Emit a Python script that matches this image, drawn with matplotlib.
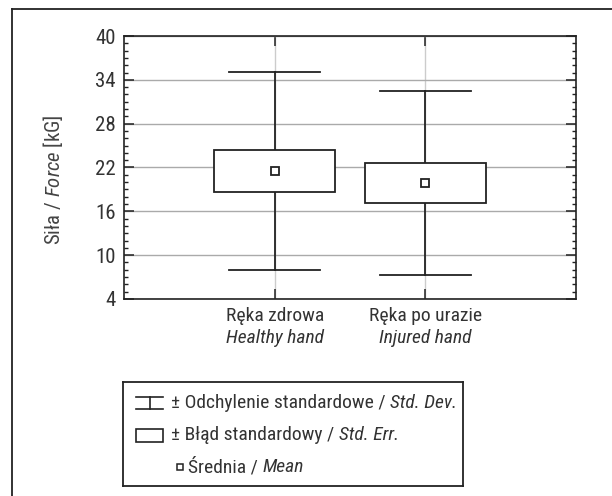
import matplotlib
matplotlib.use('Agg')
import matplotlib.pyplot as plt
from matplotlib import font_manager
from matplotlib.patches import Rectangle
from matplotlib.lines import Line2D
from matplotlib.ticker import MultipleLocator
import matplotlib.transforms as mtransforms

# data
groups_pl = ['Ręka zdrowa', 'Ręka po urazie']
groups_en = ['Healthy hand', 'Injured hand']
means = [21.52, 19.92]
std_err = [2.87, 2.76]
std_dev = [13.55, 12.6]
y_ticks = [4, 10, 16, 22, 28, 34, 40]

legend_pl = ['± Odchylenie standardowe / ', '± Błąd standardowy / ', 'Średnia / ']
legend_en = ['Std. Dev.', 'Std. Err.', 'Mean']


def pick_font():
    # look for a condensed sans face, fall back to Roboto
    ents = font_manager.fontManager.ttflist
    names = {f.name for f in ents}
    for want in ['Roboto Condensed', 'Liberation Sans Narrow', 'Arial Narrow',
                 'Noto Sans Condensed', 'Open Sans Condensed']:
        if want in names:
            return want, 'normal'
    for f in ents:
        if 'Condensed' in f.name and 'Mono' not in f.name and 'Serif' not in f.name \
                and 'Extra' not in f.name and 'Semi' not in f.name and 'CJK' not in f.name:
            return f.name, 'normal'
    for fam in ['Noto Sans', 'DejaVu Sans', 'Open Sans']:
        for f in ents:
            if f.name == fam and f.stretch == 'condensed':
                return fam, 'condensed'
    return 'Roboto', 'normal'


fam, stretch = pick_font()
plt.rcParams['font.family'] = [fam, 'DejaVu Sans']
plt.rcParams['font.stretch'] = stretch
plt.rcParams['mathtext.fontset'] = 'custom'
plt.rcParams['mathtext.rm'] = f'{fam}:stretch={stretch}'
plt.rcParams['mathtext.it'] = f'{fam}:italic:stretch={stretch}'

txt_col = '#333333'
fs = 14 if fam != 'Roboto' else 12
fs_tick = fs + 1

fig = plt.figure(figsize=(6.12, 4.96), dpi=100)

# outer frame (open on right / bottom like the crop)
fig.add_artist(Line2D([12/612, 12/612], [0, 1 - 9/496], color='#222222', lw=1.3))
fig.add_artist(Line2D([12/612, 1], [1 - 9/496, 1 - 9/496], color='#222222', lw=1.3))

ax = fig.add_axes([124/612, 1 - 299/496, 452/612, 263/496])
pos = [1, 2]
ax.set_xlim(0, 3)
ax.set_ylim(4, 40)

box_w = 0.80
cap_w = 0.60
c = '#222222'
for x, m, se, sd in zip(pos, means, std_err, std_dev):
    ax.plot([x, x], [m - sd, m - se], color=c, lw=1.3, zorder=3)
    ax.plot([x, x], [m + se, m + sd], color=c, lw=1.3, zorder=3)
    ax.plot([x - cap_w/2, x + cap_w/2], [m + sd, m + sd], color=c, lw=1.3, zorder=3)
    ax.plot([x - cap_w/2, x + cap_w/2], [m - sd, m - sd], color=c, lw=1.3, zorder=3)
    ax.add_patch(Rectangle((x - box_w/2, m - se), box_w, 2*se, facecolor='white',
                           edgecolor=c, lw=1.3, zorder=3))
    ax.plot([x], [m], marker='s', ms=5.5, mfc='white', mec=c, mew=1.3, zorder=4)

ax.set_yticks(y_ticks)
ax.yaxis.set_minor_locator(MultipleLocator(1))
ax.set_xticks(pos)
ax.set_xticklabels([])
ax.grid(True, axis='y', color='#aaaaaa', lw=1)
ax.grid(True, axis='x', color='#cccccc', lw=1)
ax.set_axisbelow(True)
ax.tick_params(axis='both', which='both', direction='in', top=True, right=True,
               colors=c, labelcolor=txt_col, labelsize=fs_tick, pad=6)
ax.tick_params(axis='y', which='major', length=7, width=1.1)
ax.tick_params(axis='y', which='minor', length=3, width=1)
ax.tick_params(axis='x', which='major', length=7, width=1.1)
for s in ax.spines.values():
    s.set_color(c)
    s.set_linewidth(1.2)

fig.text(53/612, 1 - 180/496, 'Siła / $\\mathit{Force}$ [kG]', rotation=90,
         ha='center', va='center', fontsize=fs_tick, color='#444444')

trans = mtransforms.blended_transform_factory(ax.transData, fig.transFigure)
for x, pl, en in zip(pos, groups_pl, groups_en):
    ax.text(x, 1 - 316/496, pl, transform=trans, ha='center', va='center',
            fontsize=fs, color=txt_col)
    ax.text(x, 1 - 338/496, en, transform=trans, ha='center', va='center',
            fontsize=fs, color=txt_col, style='italic')

# legend box drawn in its own pixel-space axes
lg = fig.add_axes([123/612, 1 - 486/496, 340/612, 104/496])
lg.set_xlim(0, 340)
lg.set_ylim(104, 0)
lg.set_xticks([])
lg.set_yticks([])
for s in lg.spines.values():
    s.set_color(c)
    s.set_linewidth(1.3)

# std dev symbol
lg.plot([13, 40], [15, 15], color=c, lw=1.2)
lg.plot([26.5, 26.5], [15, 27], color=c, lw=1.2)
lg.plot([13, 40], [27, 27], color=c, lw=1.2)
# std err symbol
lg.add_patch(Rectangle((13, 47), 27, 13, facecolor='white', edgecolor=c, lw=1.2))
# mean symbol
lg.plot([57], [85], marker='s', ms=5, mfc='white', mec=c, mew=1.1)

for (tx, ty), pl, en in zip([(48, 21), (48, 53), (65, 85)], legend_pl, legend_en):
    t1 = lg.text(tx, ty, pl, va='center', fontsize=fs, color=txt_col)
    lg.annotate(en, xy=(1, 0), xycoords=t1, ha='left', va='bottom',
                fontsize=fs, color=txt_col, style='italic')

fig.savefig('out.png', dpi=100)
